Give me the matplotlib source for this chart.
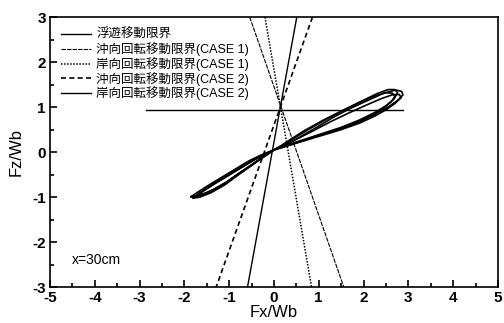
import numpy as np
import matplotlib
matplotlib.use('Agg')
import matplotlib.pyplot as plt
from matplotlib.ticker import MultipleLocator

plt.rcParams['font.family'] = ['Liberation Sans', 'Noto Sans CJK JP']
plt.rcParams['axes.unicode_minus'] = False

# limit lines (Fx, Fz end points)
float_fx = [-2.85, 2.87]
float_fz = [0.93, 0.93]

rot1_off_fx = [-0.54, 1.56]   # CASE 1 offshore
rot1_off_fz = [3.0, -3.0]
rot1_on_fx = [-0.20, 0.84]    # CASE 1 onshore
rot1_on_fz = [3.0, -3.0]
rot2_off_fx = [0.86, -1.29]   # CASE 2 offshore
rot2_off_fz = [3.0, -3.0]
rot2_on_fx = [0.51, -0.59]    # CASE 2 onshore
rot2_on_fz = [3.0, -3.0]

# measured Fx-Fz loops
loop1_fx = [-1.80, -1.65, -1.40, -1.10, -0.80, -0.50, -0.25, 0.00,
            0.25, 0.60, 1.00, 1.40, 1.80, 2.20, 2.50, 2.75, 2.88, 2.85, 2.72,
            2.45, 2.10, 1.70, 1.30, 0.90, 0.50, 0.20, 0.00,
            -0.25, -0.50, -0.80, -1.10, -1.40, -1.65, -1.80]
loop1_fz = [-1.02, -0.90, -0.74, -0.56, -0.38, -0.20, -0.07, 0.05,
            0.13, 0.24, 0.37, 0.48, 0.63, 0.81, 0.97, 1.14, 1.27, 1.35, 1.38,
            1.31, 1.15, 0.97, 0.76, 0.52, 0.29, 0.13, 0.05,
            -0.12, -0.30, -0.51, -0.73, -0.90, -1.00, -1.02]

loop2_fx = [-1.75, -1.60, -1.35, -1.05, -0.75, -0.45, -0.20, 0.02,
            0.30, 0.70, 1.10, 1.50, 1.90, 2.25, 2.50, 2.68, 2.76, 2.70, 2.55,
            2.30, 1.95, 1.55, 1.15, 0.75, 0.40, 0.15, 0.02,
            -0.22, -0.48, -0.78, -1.08, -1.38, -1.62, -1.75]
loop2_fz = [-0.98, -0.87, -0.71, -0.53, -0.35, -0.17, -0.04, 0.06,
            0.16, 0.29, 0.42, 0.55, 0.71, 0.88, 1.03, 1.18, 1.32, 1.39, 1.39,
            1.30, 1.13, 0.93, 0.72, 0.49, 0.28, 0.13, 0.06,
            -0.10, -0.27, -0.47, -0.68, -0.85, -0.95, -0.98]

loop3_fx = [-1.70, -1.55, -1.30, -1.00, -0.70, -0.40, -0.15, 0.04,
            0.30, 0.70, 1.10, 1.50, 1.90, 2.25, 2.50, 2.70, 2.84, 2.80, 2.66,
            2.40, 2.05, 1.65, 1.25, 0.85, 0.45, 0.18, 0.04,
            -0.20, -0.45, -0.75, -1.05, -1.35, -1.58, -1.70]
loop3_fz = [-0.96, -0.85, -0.69, -0.51, -0.33, -0.15, -0.02, 0.07,
            0.15, 0.26, 0.38, 0.50, 0.64, 0.80, 0.94, 1.08, 1.21, 1.28, 1.28,
            1.19, 1.04, 0.86, 0.67, 0.46, 0.26, 0.13, 0.07,
            -0.08, -0.25, -0.45, -0.66, -0.83, -0.93, -0.96]

loop4_fx = [-1.85, -1.70, -1.45, -1.15, -0.85, -0.55, -0.28, -0.02,
            0.25, 0.65, 1.05, 1.45, 1.85, 2.20, 2.45, 2.62, 2.70, 2.64, 2.50,
            2.25, 1.90, 1.50, 1.10, 0.70, 0.38, 0.14, -0.02,
            -0.28, -0.55, -0.85, -1.15, -1.45, -1.70, -1.85]
loop4_fz = [-0.99, -0.89, -0.73, -0.55, -0.37, -0.19, -0.06, 0.04,
            0.12, 0.25, 0.38, 0.51, 0.66, 0.83, 0.98, 1.12, 1.24, 1.31, 1.32,
            1.25, 1.10, 0.91, 0.71, 0.49, 0.29, 0.13, 0.04,
            -0.13, -0.32, -0.53, -0.74, -0.90, -0.98, -0.99]

fig = plt.figure(figsize=(5.04, 3.23), dpi=100)
ax = fig.add_axes([0.099, 0.111, 0.889, 0.836])

l0, = ax.plot(float_fx, float_fz, color='black', lw=1.0, label='浮遊移動限界')
l1, = ax.plot(rot1_off_fx, rot1_off_fz, color='black', lw=0.8,
              linestyle=(0, (4, 1)), label='沖向回転移動限界(CASE 1)')
l2, = ax.plot(rot1_on_fx, rot1_on_fz, color='black', lw=1.1,
              linestyle=(0, (1, 1)), label='岸向回転移動限界(CASE 1)')
l3, = ax.plot(rot2_off_fx, rot2_off_fz, color='black', lw=1.2,
              linestyle=(0, (3, 2)), label='沖向回転移動限界(CASE 2)')
l4, = ax.plot(rot2_on_fx, rot2_on_fz, color='black', lw=1.0,
              label='岸向回転移動限界(CASE 2)')

loops = [(loop1_fx, loop1_fz), (loop2_fx, loop2_fz),
         (loop3_fx, loop3_fz), (loop4_fx, loop4_fz)]
for fx, fz in loops:
    ax.plot(fx, fz, color='black', lw=1.2, solid_joinstyle='round')

ax.set_xlim(-5, 5)
ax.set_ylim(-3, 3)
ax.xaxis.set_major_locator(MultipleLocator(1))
ax.xaxis.set_minor_locator(MultipleLocator(0.5))
ax.yaxis.set_major_locator(MultipleLocator(1))
ax.yaxis.set_minor_locator(MultipleLocator(0.5))
ax.tick_params(which='both', direction='in', top=False, right=False,
               width=1.2, labelsize=11, pad=3)
ax.tick_params(which='major', length=5)
ax.tick_params(which='minor', length=3)
for lab in ax.get_xticklabels() + ax.get_yticklabels():
    lab.set_fontweight('bold')
for sp in ax.spines.values():
    sp.set_linewidth(1.2)

ax.set_xlabel('Fx/Wb', fontsize=12, labelpad=0)
ax.set_ylabel('Fz/Wb', fontsize=12, labelpad=6)

ax.text(-4.5, -2.4, 'x=30cm', fontsize=10, va='center')

leg = ax.legend(handles=[l0, l1, l2, l3, l4], loc='upper left',
                bbox_to_anchor=(0.025, 0.955), frameon=False, fontsize=9,
                handlelength=2.4, handletextpad=0.4, labelspacing=0.07,
                borderaxespad=0.0, borderpad=0.0)

fig.savefig('out.png', dpi=100)
